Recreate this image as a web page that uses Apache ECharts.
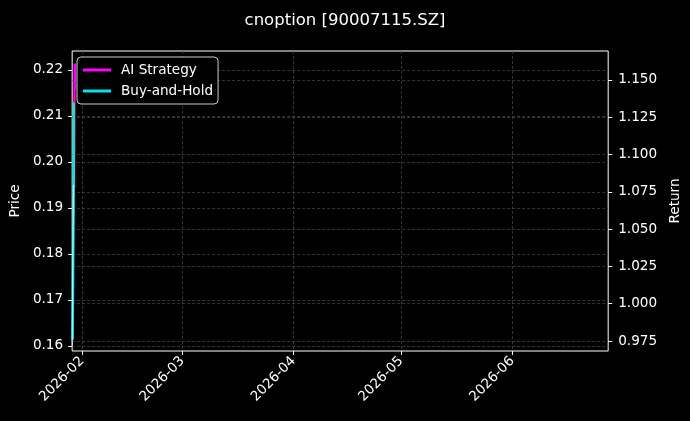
<!DOCTYPE html>
<html>
<head>
<meta charset="utf-8">
<script src="https://cdn.jsdelivr.net/npm/echarts@6/dist/echarts.min.js"></script>
<style>
html,body{margin:0;padding:0;background:#000;}
#chart{width:690px;height:421px;}
</style>
</head>
<body>
<div id="chart"></div>
<script>
// ---- data ----
const titleText = 'cnoption [90007115.SZ]';
const monthTicks = ['2026-02-01 00:00', '2026-03-01 00:00', '2026-04-01 00:00', '2026-05-01 00:00', '2026-06-01 00:00'];
const priceDates = ['2026-01-29 06:00', '2026-01-29 14:00'];
const priceValues = [0.1600, 0.1950];
const sellDates = ['2026-01-30 06:00', '2026-01-30 06:30'];
const sellValues = [0.2157, 0.1943];
const buyHoldDates = ['2026-01-29 09:00', '2026-01-29 20:00'];
const buyHoldValues = [0.976, 1.135];
const strategyDates = ['2026-01-29 22:00', '2026-01-30 00:00'];
const strategyValues = [1.135, 1.161];
const priceTicks = [0.16, 0.17, 0.18, 0.19, 0.20, 0.21, 0.22];
const returnTicks = [0.975, 1.000, 1.025, 1.050, 1.075, 1.100, 1.125, 1.150];

const ts = s => new Date(s.replace(' ', 'T')).getTime();
const zip = (a, b) => a.map((d, i) => [ts(d), b[i]]);
const font = 'DejaVu Sans';
const gridLine = {show: true, lineStyle: {color: '#4a4a4a', type: [3, 2], width: 0.7}};
const monthTs = monthTicks.map(ts);
const fs = 13.6;

const chart = echarts.init(document.getElementById('chart'));
chart.setOption({
  backgroundColor: '#000',
  animation: false,
  textStyle: {fontFamily: font},
  title: {
    text: titleText, left: 'center', top: 7,
    textStyle: {color: '#fff', fontSize: 16.5, fontWeight: 'normal', fontFamily: font}
  },
  legend: {
    left: 77, top: 57, orient: 'vertical',
    data: ['AI Strategy', 'Buy-and-Hold'],
    backgroundColor: '#000', borderColor: '#cccccc', borderWidth: 1, borderRadius: 4,
    padding: [6, 5, 6, 6], itemGap: 7, itemWidth: 28, itemHeight: 3, icon: 'rect',
    textStyle: {color: '#fff', fontSize: fs, fontFamily: font, padding: [0, 0, 0, 5]}
  },
  grid: {
    left: 70, right: 79, top: 51, bottom: 70,
    show: true, borderColor: '#fff', borderWidth: 1, backgroundColor: '#000'
  },
  xAxis: {
    type: 'value',
    min: ts('2026-01-29 06:00'), max: ts('2026-06-27 18:00'),
    axisLine: {show: false},
    axisTick: {show: true, length: 4, lineStyle: {color: '#fff'}, customValues: monthTs},
    axisLabel: {
      color: '#fff', fontSize: fs, fontFamily: font, rotate: 45, margin: 8,
      customValues: monthTs,
      formatter: v => echarts.time.format(v, '{yyyy}-{MM}', false)
    },
    splitLine: gridLine
  },
  yAxis: [
    {
      type: 'value', position: 'left',
      min: 0.1589, max: 0.2241,
      name: 'Price', nameLocation: 'middle', nameRotate: 90, nameGap: 47,
      nameTextStyle: {color: '#fff', fontSize: fs, fontFamily: font},
      axisLine: {show: false},
      axisTick: {show: true, length: 4, lineStyle: {color: '#fff'}, customValues: priceTicks},
      axisLabel: {color: '#fff', fontSize: fs, fontFamily: font, margin: 9,
        customValues: priceTicks, formatter: v => v.toFixed(2)},
      splitLine: gridLine
    },
    {
      type: 'value', position: 'right',
      min: 0.9683, max: 1.1694,
      name: 'Return', nameLocation: 'middle', nameRotate: 90, nameGap: 58,
      nameTextStyle: {color: '#fff', fontSize: fs, fontFamily: font},
      axisLine: {show: false},
      axisTick: {show: true, length: 4, lineStyle: {color: '#fff'}, customValues: returnTicks},
      axisLabel: {color: '#fff', fontSize: fs, fontFamily: font, margin: 10,
        customValues: returnTicks, formatter: v => v.toFixed(3)},
      splitLine: gridLine
    }
  ],
  series: [
    {
      name: 'AI Strategy', type: 'line', yAxisIndex: 1, showSymbol: false,
      data: zip(strategyDates, strategyValues),
      lineStyle: {color: '#ff00ff', width: 2.5}, itemStyle: {color: '#ff00ff'}
    },
    {
      name: 'Buy-and-Hold', type: 'line', yAxisIndex: 1, showSymbol: false,
      data: zip(buyHoldDates, buyHoldValues),
      lineStyle: {color: '#00e5ee', width: 2.5}, itemStyle: {color: '#00e5ee'}
    },
    {
      name: 'Price', type: 'line', yAxisIndex: 0, showSymbol: false,
      data: zip(priceDates, priceValues),
      lineStyle: {color: '#ffffff', width: 1, opacity: 0.8}
    },
    {
      name: 'Sell', type: 'line', yAxisIndex: 0, showSymbol: false,
      data: zip(sellDates, sellValues),
      lineStyle: {color: '#a00000', width: 1}
    }
  ]
});
</script>
</body>
</html>
